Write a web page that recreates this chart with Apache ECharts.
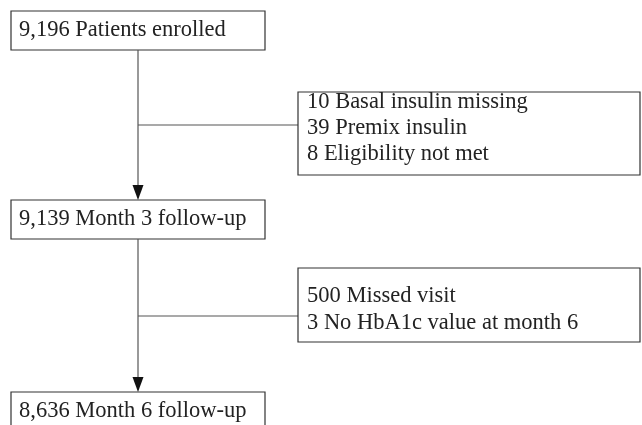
<!DOCTYPE html>
<html>
<head>
<meta charset="utf-8">
<script src="https://cdn.jsdelivr.net/npm/echarts@6/dist/echarts.min.js"></script>
<style>
  html, body { margin: 0; padding: 0; background: #fff; }
  #chart { width: 642px; height: 425px; }
</style>
</head>
<body>
<div id="chart"></div>
<script>
// flow data
const stepCounts = ['9,196', '9,139', '8,636'];
const stepLabels = ['Patients enrolled', 'Month 3 follow-up', 'Month 6 follow-up'];
const exclCounts1 = ['10', '39', '8'];
const exclLabels1 = ['Basal insulin missing', 'Premix insulin', 'Eligibility not met'];
const exclCounts2 = ['500', '3'];
const exclLabels2 = ['Missed visit', 'No HbA1c value at month 6'];

// layout (in axis units = pixels)
const mainX = 11, mainW = 254, mainH = 39;
const mainTops = [11, 200, 392];
const spineX = 138;
const sideX = 298, sideRight = 640;
const sideBoxes = [
  { top: 92, bottom: 175, join: 125, lines: [102, 128, 154] },
  { top: 268, bottom: 342, join: 316, lines: [296, 323] }
];
const font = '22.5px "Liberation Serif", "DejaVu Serif", serif';
const boxStroke = '#333';
const lineStroke = '#555';

const exclusions = [
  exclCounts1.map((c, i) => c + ' ' + exclLabels1[i]),
  exclCounts2.map((c, i) => c + ' ' + exclLabels2[i])
];

function rectOf(api, x1, y1, x2, y2) {
  const a = api.coord([x1, y1]);
  const b = api.coord([x2, y2]);
  return { x: a[0], y: a[1], width: b[0] - a[0], height: b[1] - a[1] };
}

function renderMain(params, api) {
  const i = api.value(0);
  const top = mainTops[i];
  const children = [{
    type: 'rect',
    shape: rectOf(api, mainX, top, mainX + mainW, top + mainH),
    style: { fill: '#fff', stroke: boxStroke, lineWidth: 1.2 }
  }];
  const t = api.coord([mainX + 8, top + mainH / 2]);
  children.push({
    type: 'text',
    x: t[0], y: t[1],
    style: { text: stepCounts[i] + ' ' + stepLabels[i], font: font, fill: '#222', verticalAlign: 'middle' }
  });
  // arrow down to the next box
  if (i < mainTops.length - 1) {
    const p0 = api.coord([spineX, top + mainH]);
    const tip = api.coord([spineX, mainTops[i + 1]]);
    children.push({
      type: 'line',
      shape: { x1: p0[0], y1: p0[1], x2: tip[0], y2: tip[1] - 14 },
      style: { stroke: lineStroke, lineWidth: 1.2 }
    });
    children.push({
      type: 'polygon',
      shape: { points: [[tip[0] - 5.5, tip[1] - 15], [tip[0] + 5.5, tip[1] - 15], [tip[0], tip[1]]] },
      style: { fill: '#111' }
    });
  }
  return { type: 'group', children: children };
}

function renderSide(params, api) {
  const i = api.value(0);
  const b = sideBoxes[i];
  const children = [];
  const j0 = api.coord([spineX, b.join]);
  const j1 = api.coord([sideX, b.join]);
  children.push({
    type: 'line',
    shape: { x1: j0[0], y1: j0[1], x2: j1[0], y2: j1[1] },
    style: { stroke: lineStroke, lineWidth: 1.2 }
  });
  children.push({
    type: 'rect',
    shape: rectOf(api, sideX, b.top, sideRight, b.bottom),
    style: { fill: '#fff', stroke: boxStroke, lineWidth: 1.2 }
  });
  exclusions[i].forEach((txt, k) => {
    const p = api.coord([sideX + 9, b.lines[k]]);
    children.push({
      type: 'text',
      x: p[0], y: p[1],
      style: { text: txt, font: font, fill: '#222', verticalAlign: 'middle' }
    });
  });
  return { type: 'group', children: children };
}

const chart = echarts.init(document.getElementById('chart'));
chart.setOption({
  animation: false,
  grid: { left: 0, right: 0, top: 0, bottom: 0 },
  xAxis: { type: 'value', min: 0, max: 642, show: false },
  yAxis: { type: 'value', min: 0, max: 425, inverse: true, show: false },
  series: [
    {
      type: 'custom',
      coordinateSystem: 'cartesian2d',
      clip: true,
      data: stepCounts.map((_, i) => [i]),
      renderItem: renderMain,
      z: 3
    },
    {
      type: 'custom',
      coordinateSystem: 'cartesian2d',
      clip: true,
      data: exclusions.map((_, i) => [i]),
      renderItem: renderSide,
      z: 2
    }
  ]
});
</script>
</body>
</html>
